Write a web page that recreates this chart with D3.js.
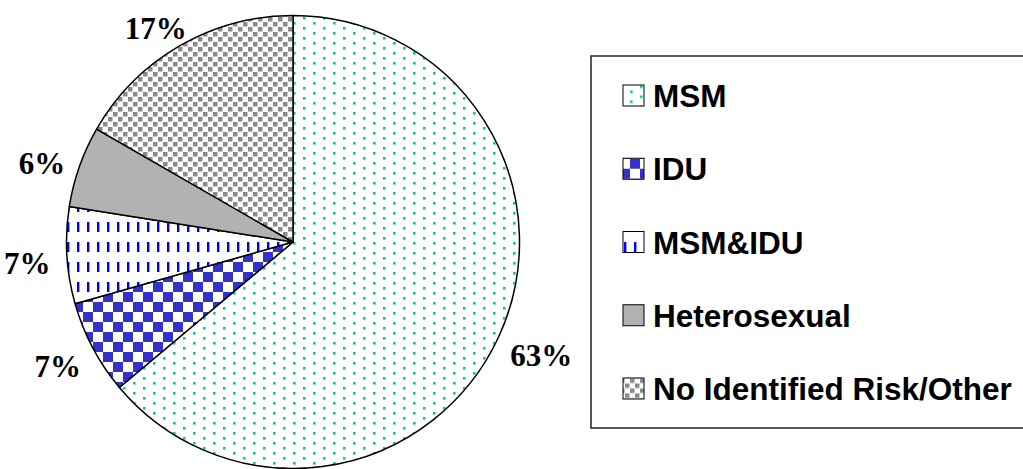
<!DOCTYPE html>
<html>
<head>
<meta charset="utf-8">
<script src="https://cdn.jsdelivr.net/npm/d3@7"></script>
<style>
  html, body { margin: 0; padding: 0; background: #ffffff; }
  svg { display: block; }
</style>
</head>
<body>
<script>
// ---- Data ----
const categories = ["MSM", "IDU", "MSM&IDU", "Heterosexual", "No Identified Risk/Other"];
const values = [63.9, 6.7, 6.9, 5.8, 16.7];
const valueLabels = ["63%", "7%", "7%", "6%", "17%"];
const patternIds = ["p-msm", "p-idu", "p-msmidu", "p-het", "p-noid"];

const W = 1023, H = 469;
const cx = 293, cy = 242, R = 226.5;

const svg = d3.select("body").append("svg")
  .attr("width", W).attr("height", H);
svg.append("rect").attr("width", W).attr("height", H).attr("fill", "#fff");

// ---- Patterns ----
const defs = svg.append("defs");
function pat(id, w, h) {
  const p = defs.append("pattern").attr("id", id)
    .attr("patternUnits", "userSpaceOnUse").attr("width", w).attr("height", h);
  p.append("rect").attr("width", w).attr("height", h).attr("fill", "#fff");
  return p;
}
// MSM: staggered teal dots
let p = pat("p-msm", 20, 10);
p.append("rect").attr("x", 0).attr("y", 0).attr("width", 2.6).attr("height", 2.6).attr("fill", "#00cc99");
p.append("rect").attr("x", 10).attr("y", 5).attr("width", 2.6).attr("height", 2.6).attr("fill", "#00cc99");
// IDU: blue checkerboard
p = pat("p-idu", 20, 20);
p.append("rect").attr("x", 0).attr("y", 0).attr("width", 10).attr("height", 10).attr("fill", "#3333cc");
p.append("rect").attr("x", 10).attr("y", 10).attr("width", 10).attr("height", 10).attr("fill", "#3333cc");
// MSM&IDU: vertical blue dashes
p = pat("p-msmidu", 10, 20);
p.append("rect").attr("x", 4).attr("y", 0).attr("width", 2.4).attr("height", 10).attr("fill", "#0000ff");
// Heterosexual: solid gray
p = pat("p-het", 10, 10);
p.select("rect").attr("fill", "#b2b2b2");
// No Identified: gray squares
p = pat("p-noid", 10, 10);
p.append("rect").attr("x", 0).attr("y", 0).attr("width", 4.5).attr("height", 4.5).attr("fill", "#8a8a8a");
p.append("rect").attr("x", 5).attr("y", 5).attr("width", 4.5).attr("height", 4.5).attr("fill", "#8a8a8a");

// ---- Pie ----
const pie = d3.pie().sort(null).value(d => d);
const arcs = pie(values);
const arc = d3.arc().innerRadius(0).outerRadius(R);

const g = svg.append("g").attr("transform", `translate(${cx},${cy})`);
g.selectAll("path.slice").data(arcs).enter().append("path")
  .attr("class", "slice")
  .attr("d", arc)
  .attr("fill", (d, i) => `url(#${patternIds[i]})`)
  .attr("stroke", "#000")
  .attr("stroke-width", 1.5)
  .attr("stroke-linejoin", "round");

// ---- Labels ----
const labelR = 243;
const capH = 21;
g.selectAll("text.lbl").data(arcs).enter().append("text")
  .attr("class", "lbl")
  .attr("font-family", "'Liberation Serif', 'Times New Roman', serif")
  .attr("font-weight", "bold")
  .attr("font-size", 31)
  .attr("fill", "#000")
  .attr("text-anchor", "middle")
  .text((d, i) => valueLabels[i])
  .each(function(d) {
    const a = (d.startAngle + d.endAngle) / 2;
    const s = Math.sin(a), c = -Math.cos(a);
    const w = this.getComputedTextLength();
    const ax = labelR * s, ay = labelR * c;
    const bx = ax + s * w / 2;
    const by = ay + c * capH / 2 + 6;
    d3.select(this).attr("x", bx).attr("y", by + capH / 2);
  });

// ---- Legend ----
const lg = svg.append("g");
lg.append("rect")
  .attr("x", 591).attr("y", 56).attr("width", 450).attr("height", 372)
  .attr("fill", "#fff").attr("stroke", "#222").attr("stroke-width", 1.5);

const rowY = d3.scalePoint().domain(categories).range([95.5, 388.5]);
const items = lg.selectAll("g.item").data(categories).enter().append("g")
  .attr("class", "item")
  .attr("transform", d => `translate(0,${rowY(d)})`);
items.append("rect")
  .attr("x", 623).attr("y", -10.5).attr("width", 21).attr("height", 21)
  .attr("fill", (d, i) => `url(#${patternIds[i]})`)
  .attr("stroke", "#000").attr("stroke-width", 1);
items.append("text")
  .attr("x", 653).attr("y", 11.5)
  .attr("font-family", "'Liberation Sans', Arial, sans-serif")
  .attr("font-weight", "bold")
  .attr("font-size", 31.5)
  .attr("fill", "#000")
  .text(d => d);
</script>
</body>
</html>
